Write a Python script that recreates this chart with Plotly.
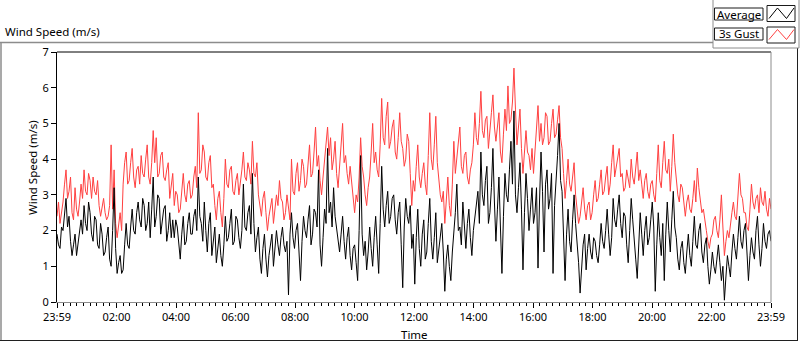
import numpy as np
import plotly.graph_objects as go

# ---------------- data ----------------
avg_00_04 = [1.9, 1.6, 1.5, 2.1, 2.0, 2.6, 2.9, 2.1, 2.4, 1.7,
             1.3, 1.6, 1.9, 1.3, 1.6, 2.0, 2.3, 1.9, 2.7, 2.2,
             2.0, 2.8, 2.5, 1.9, 1.7, 2.4, 2.3, 1.6, 1.5, 2.2,
             1.9, 1.3, 1.4, 1.8, 2.1, 1.2, 1.0, 2.0, 3.2, 1.5,
             0.8, 1.1, 1.3, 0.8, 0.9, 1.6, 2.2, 1.6, 1.5, 2.1,
             2.6, 2.0, 1.9, 2.5, 2.8, 2.3, 2.1, 2.9, 2.7, 2.0,
             2.2, 2.8, 1.8, 2.6, 3.5, 2.1, 2.4, 3.0, 2.9, 1.9,
             2.2, 2.6, 2.7, 1.7, 2.0, 2.5, 1.8, 2.3]
gust_00_04 = [2.4, 2.8, 2.2, 2.5, 2.8, 3.3, 3.7, 2.9, 3.1, 3.5,
              2.5, 2.3, 3.2, 2.6, 2.4, 2.8, 3.3, 2.9, 3.7, 3.1,
              3.0, 3.6, 3.4, 2.9, 3.5, 3.1, 3.0, 3.4, 2.7, 2.4,
              2.6, 2.9, 2.5, 2.3, 2.4, 2.7, 4.4, 2.6, 3.7, 2.2,
              1.8, 2.2, 2.5, 2.0, 3.3, 3.9, 4.2, 3.3, 3.4, 3.9,
              4.3, 3.5, 3.2, 3.7, 3.8, 3.3, 4.1, 3.6, 3.5, 4.0,
              4.4, 3.5, 3.3, 3.9, 4.8, 3.9, 4.6, 3.5, 3.6, 4.1,
              4.2, 3.5, 3.4, 3.7, 3.9, 2.9, 3.2, 3.6]

avg_04_08 = [1.8, 2.3, 2.1, 1.5, 1.2, 1.9, 2.4, 1.6, 1.7, 2.2,
             2.5, 1.9, 1.9, 2.4, 2.6, 2.0, 3.5, 2.4, 2.2, 1.7,
             2.8, 2.0, 1.4, 2.2, 2.5, 1.3, 1.7, 2.1, 1.1, 1.5,
             1.9, 1.3, 1.0, 1.6, 2.4, 1.7, 1.8, 2.2, 2.6, 1.6,
             1.7, 2.4, 2.3, 1.8, 1.5, 2.0, 3.3, 2.1, 2.0, 2.5,
             2.7, 1.9, 3.6, 2.2, 1.4, 1.8, 2.1, 1.2, 0.8, 1.5,
             1.9, 1.2, 0.7, 1.3, 1.6, 1.9, 1.0, 1.5, 2.0, 1.6,
             1.3, 1.8, 2.1, 1.6, 1.4, 1.7, 0.2, 1.9, 2.5, 1.8]
gust_04_08 = [2.7, 3.1, 3.0, 2.5, 2.6, 3.1, 3.6, 3.0, 2.8, 3.3,
              3.4, 2.9, 3.0, 3.5, 3.8, 3.2, 5.3, 3.6, 3.7, 4.4,
              4.2, 3.5, 3.4, 3.9, 4.1, 3.2, 3.3, 2.7, 2.3, 2.9,
              3.1, 2.5, 2.1, 2.9, 4.0, 3.3, 3.2, 3.7, 3.8, 3.1,
              3.0, 3.4, 3.6, 3.0, 3.3, 3.7, 4.2, 3.5, 3.4, 3.9,
              3.7, 3.3, 4.5, 3.6, 3.5, 3.9, 3.0, 2.6, 2.4, 2.9,
              3.1, 2.5, 2.0, 2.4, 2.6, 2.9, 2.2, 2.6, 3.0, 2.7,
              3.4, 2.9, 2.8, 2.3, 2.5, 3.0, 2.7, 2.3, 4.0, 3.1]

avg_08_12 = [1.5, 2.0, 2.2, 1.4, 0.6, 1.7, 2.4, 2.0, 1.8, 2.3,
             2.7, 1.6, 1.9, 2.6, 2.5, 2.1, 3.7, 1.6, 1.0, 1.8,
             2.6, 2.2, 4.3, 2.5, 2.8, 2.1, 3.2, 2.4, 2.0, 1.6,
             1.4, 1.9, 2.4, 1.7, 1.2, 1.8, 2.1, 1.3, 0.9, 1.5,
             1.6, 1.1, 0.6, 2.0, 4.1, 1.9, 1.3, 1.7, 0.9, 1.4,
             2.1, 1.5, 1.0, 1.8, 2.4, 1.6, 0.8, 2.2, 3.8, 2.6,
             2.1, 2.7, 3.1, 2.2, 2.4, 2.9, 3.0, 2.3, 1.9, 2.5,
             2.8, 1.6, 0.4, 2.1, 2.9, 2.4, 2.2, 2.7, 1.5, 1.9]
gust_08_12 = [3.0, 3.6, 3.9, 3.1, 3.4, 4.0, 3.8, 3.2, 3.3, 3.9,
              4.4, 3.5, 3.6, 4.2, 4.9, 3.8, 4.1, 3.4, 3.0, 3.5,
              3.9, 4.3, 4.9, 4.1, 4.6, 3.7, 4.0, 4.5, 3.6, 3.2,
              3.9, 4.4, 5.0, 3.9, 4.1, 3.6, 3.3, 3.8, 3.4, 2.9,
              2.5, 3.0, 2.8, 3.5, 4.6, 3.8, 3.5, 3.0, 2.7, 3.2,
              3.5, 4.2, 5.0, 3.9, 4.2, 3.7, 3.5, 4.4, 5.7, 4.6,
              4.4, 5.2, 5.6, 4.3, 4.5, 4.9, 5.1, 4.2, 4.0, 4.6,
              5.3, 4.5, 4.3, 3.8, 4.0, 4.7, 4.5, 3.6, 2.7, 3.4]

avg_12_16 = [0.5, 1.8, 2.6, 1.5, 1.0, 1.9, 2.3, 1.2, 1.4, 2.2,
             2.9, 1.7, 1.2, 1.8, 2.5, 1.1, 1.5, 1.9, 2.2, 1.4,
             0.3, 1.2, 1.6, 1.0, 0.6, 1.4, 1.9, 2.5, 3.3, 2.0,
             2.1, 1.6, 2.8, 2.0, 1.5, 2.2, 2.6, 1.8, 1.3, 2.0,
             2.4, 2.9, 3.1, 2.2, 4.2, 3.0, 2.7, 3.4, 3.8, 2.2,
             2.5, 3.2, 4.3, 2.8, 1.7, 2.6, 3.5, 2.1, 0.8, 2.4,
             3.6, 3.0, 2.8, 3.7, 4.5, 3.3, 5.35, 3.0, 2.5, 3.2,
             3.9, 2.6, 0.9, 2.5, 3.6, 2.9, 2.0, 2.6, 3.2, 2.2]
gust_12_16 = [3.1, 3.8, 4.4, 3.5, 3.2, 3.6, 3.9, 3.3, 3.0, 4.1,
              5.3, 4.0, 3.7, 4.4, 5.2, 3.9, 3.4, 3.0, 2.8, 3.1,
              2.2, 2.9, 3.5, 2.7, 2.4, 3.3, 4.5, 3.6, 4.0, 4.4,
              4.9, 3.8, 3.6, 4.1, 4.2, 3.5, 3.3, 3.7, 3.9, 4.4,
              5.3, 4.6, 4.4, 5.0, 5.9, 4.8, 4.6, 5.1, 5.2, 4.3,
              4.7, 5.3, 5.8, 4.9, 4.5, 4.9, 5.3, 4.2, 3.9, 4.7,
              5.4, 4.8, 6.05, 5.0, 5.1, 5.6, 6.55, 5.4, 4.4, 4.9,
              5.4, 4.3, 3.6, 4.2, 4.8, 4.2, 4.1, 3.7, 4.3, 3.6]

avg_16_20 = [2.5, 3.2, 0.95, 2.8, 4.2, 3.1, 1.4, 3.3, 3.7, 2.6,
             2.9, 3.6, 0.8, 2.7, 3.3, 4.1, 5.0, 3.4, 3.1, 1.8,
             0.6, 1.9, 2.6, 1.7, 1.4, 2.3, 3.0, 2.2, 1.7, 1.1,
             0.25, 0.9, 1.6, 1.9, 0.9, 1.5, 1.9, 1.4, 1.2, 1.8,
             1.7, 1.3, 1.1, 1.6, 2.2, 1.7, 1.5, 2.0, 2.6, 1.9,
             1.3, 1.8, 2.9, 2.3, 2.1, 2.6, 3.0, 2.2, 1.8, 2.5,
             2.4, 1.6, 1.1, 2.0, 2.9, 2.3, 1.6, 1.2, 0.66, 1.8,
             2.5, 1.9, 1.3, 2.0, 2.4, 1.6, 1.8, 2.3, 2.8, 2.1]
gust_16_20 = [4.2, 4.8, 5.5, 4.5, 5.0, 4.4, 4.6, 5.3, 5.2, 4.4,
              4.5, 5.0, 5.4, 4.6, 4.7, 5.1, 5.5, 4.6, 4.3, 3.6,
              2.9, 3.4, 4.0, 3.3, 3.1, 3.5, 3.9, 3.0, 2.6, 2.2,
              2.4, 2.9, 3.2, 2.6, 2.3, 2.7, 2.8, 2.3, 2.5, 3.0,
              3.4, 2.8, 2.9, 3.3, 3.7, 3.0, 3.1, 3.5, 3.8, 3.0,
              3.3, 3.9, 4.4, 3.5, 3.8, 4.1, 4.3, 3.5, 3.6, 3.1,
              3.2, 3.7, 3.5, 3.2, 4.0, 3.5, 3.3, 3.7, 4.2, 3.4,
              3.7, 3.3, 2.9, 3.4, 3.6, 3.1, 2.9, 3.3, 3.4, 3.0]

avg_20_24 = [0.3, 1.6, 2.5, 1.8, 1.3, 2.2, 0.6, 1.9, 2.8, 2.0,
             1.4, 2.3, 3.1, 2.1, 1.8, 1.2, 0.9, 1.5, 1.7, 1.1,
             0.8, 1.4, 1.9, 1.3, 1.0, 1.7, 2.4, 1.6, 1.5, 2.0,
             2.2, 1.4, 1.1, 1.6, 1.8, 1.0, 0.5, 0.9, 1.4, 1.0,
             0.8, 1.2, 1.6, 1.1, 0.6, 1.0, 0.05, 0.7, 1.3, 1.0,
             0.7, 1.4, 1.9, 1.5, 1.2, 1.8, 2.4, 1.7, 1.5, 2.0,
             2.2, 1.4, 0.6, 1.3, 1.8, 1.4, 1.2, 2.0, 2.4, 1.6,
             1.0, 1.5, 2.2, 1.7, 1.5, 1.9, 2.0, 1.7]
gust_20_24 = [2.8, 3.6, 4.4, 3.4, 3.2, 3.9, 4.5, 3.7, 3.6, 4.0,
              3.1, 3.8, 4.7, 3.9, 3.5, 3.0, 2.8, 3.3, 3.2, 2.7,
              2.4, 2.8, 3.0, 2.6, 2.5, 2.9, 3.4, 2.8, 3.75, 3.2,
              2.9, 2.5, 2.6, 2.2, 2.0, 1.7, 1.5, 1.8, 1.9, 2.3,
              2.4, 2.0, 1.8, 2.3, 3.0, 2.1, 1.3, 1.7, 2.0, 1.8,
              2.2, 2.5, 2.8, 2.4, 2.3, 2.9, 3.6, 3.0, 2.9, 2.5,
              2.5, 2.1, 2.0, 2.6, 3.3, 2.8, 2.6, 2.9, 3.0, 2.5,
              3.2, 2.8, 2.7, 3.1, 2.6, 2.4, 2.9, 2.6]

average = avg_00_04 + avg_04_08 + avg_08_12 + avg_12_16 + avg_16_20 + avg_20_24
gust = gust_00_04 + gust_04_08 + gust_08_12 + gust_12_16 + gust_16_20 + gust_20_24

# sample times in hours after 23:59 of the previous day
time_hours = np.linspace(0, 24, len(average))

tick_hours = [0, 2, 4, 6, 8, 10, 12, 14, 16, 18, 20, 22, 24]
tick_labels = ["23:59", "02:00", "04:00", "06:00", "08:00", "10:00", "12:00",
               "14:00", "16:00", "18:00", "20:00", "22:00", "23:59"]
y_ticks = [0, 1, 2, 3, 4, 5, 6, 7]

# ---------------- layout geometry (pixels) ----------------
W, H = 800, 342
L, R, T, B = 57, 771, 52, 302
FONT = "Noto Sans"


def px(x):
    return (x - L) / (R - L)


def py(y):
    return (B - y) / (B - T)


fig = go.Figure()
fig.add_trace(go.Scatter(x=time_hours, y=gust, mode="lines", name="3s Gust",
                         line=dict(color="#ff4040", width=1)))
fig.add_trace(go.Scatter(x=time_hours, y=average, mode="lines", name="Average",
                         line=dict(color="#000000", width=1)))

shapes = []
grey = "#8c8c8c"
# outer frame
shapes.append(dict(type="line", xref="paper", yref="paper", x0=px(0), x1=px(713), y0=py(42.5), y1=py(42.5),
                   line=dict(color=grey, width=1.5)))
shapes.append(dict(type="line", xref="paper", yref="paper", x0=px(1), x1=px(1), y0=py(42), y1=py(340.5),
                   line=dict(color=grey, width=1.5)))
shapes.append(dict(type="line", xref="paper", yref="paper", x0=px(0), x1=px(798), y0=py(340.5), y1=py(340.5),
                   line=dict(color="#202020", width=1)))
shapes.append(dict(type="line", xref="paper", yref="paper", x0=px(797.5), x1=px(797.5), y0=py(48), y1=py(340.5),
                   line=dict(color="#202020", width=1)))
# plot frame: top black, right grey
shapes.append(dict(type="line", xref="paper", yref="paper", x0=0, x1=1, y0=1, y1=1,
                   line=dict(color="#000000", width=1)))
shapes.append(dict(type="line", xref="paper", yref="paper", x0=1, x1=1, y0=0, y1=1,
                   line=dict(color=grey, width=1)))
# legend panel
shapes.append(dict(type="rect", xref="paper", yref="paper", x0=px(713), x1=px(799), y0=py(48), y1=py(-2),
                   line=dict(color=grey, width=1), fillcolor="white"))
for (ty0, ty1, sy0, sy1) in [(8, 20, 5.5, 21.5), (28, 40, 27, 43)]:
    shapes.append(dict(type="rect", xref="paper", yref="paper", x0=px(714.5), x1=px(763), y0=py(ty1), y1=py(ty0),
                       line=dict(color="#1a1a1a", width=1), fillcolor="white"))
    shapes.append(dict(type="rect", xref="paper", yref="paper", x0=px(767), x1=px(795), y0=py(sy1), y1=py(sy0),
                       line=dict(color="#1a1a1a", width=1), fillcolor="white"))


def zig(yl, yh, color):
    pts = [(769, yl), (777.5, yh), (786.5, yl), (794, yh)]
    path = "M " + " L ".join(f"{px(a):.5f},{py(b):.5f}" for a, b in pts)
    return dict(type="path", xref="paper", yref="paper", path=path, line=dict(color=color, width=1))


shapes.append(zig(18.5, 8, "#000000"))
shapes.append(zig(39.5, 29.5, "#ff4040"))

annotations = [
    dict(text="Wind Speed (m/s)", xref="paper", yref="paper", x=px(3), y=py(32), xanchor="left", yanchor="middle",
         showarrow=False, font=dict(family=FONT, size=11.5, color="#000")),
    dict(text="Average", xref="paper", yref="paper", x=px(739), y=py(14), xanchor="center", yanchor="middle",
         showarrow=False, font=dict(family=FONT, size=11.5, color="#000")),
    dict(text="3s Gust", xref="paper", yref="paper", x=px(739), y=py(34), xanchor="center", yanchor="middle",
         showarrow=False, font=dict(family=FONT, size=11.5, color="#000")),
    dict(text="Wind Speed (m/s)", xref="paper", yref="paper", x=px(32), y=py(168), xanchor="center",
         yanchor="middle", textangle=-90, showarrow=False, font=dict(family=FONT, size=11.5, color="#000")),
    dict(text="Time", xref="paper", yref="paper", x=px(414), y=py(334), xanchor="center", yanchor="middle",
         showarrow=False, font=dict(family=FONT, size=11.5, color="#000")),
]

fig.update_layout(
    width=W, height=H,
    margin=dict(l=L, r=W - R, t=T, b=H - B, pad=0),
    paper_bgcolor="white", plot_bgcolor="white",
    showlegend=False,
    shapes=shapes, annotations=annotations,
    font=dict(family=FONT, size=11, color="#000"),
    xaxis=dict(range=[0, 24], tickmode="array", tickvals=tick_hours, ticktext=tick_labels,
               showgrid=False, zeroline=False, showline=True, linecolor=grey, linewidth=1,
               ticks="outside", ticklen=5, tickcolor="#000", tickwidth=1,
               tickfont=dict(family=FONT, size=11, color="#000"),
               minor=dict(ticks="outside", ticklen=3, tickcolor="#000", tickwidth=1,
                          tickmode="linear", tick0=0, dtick=2 / 9, showgrid=False)),
    yaxis=dict(range=[0, 7], tickmode="array", tickvals=y_ticks, showgrid=False, zeroline=False,
               showline=True, linecolor="#000", linewidth=1,
               ticks="outside", ticklen=5, tickcolor="#000", tickwidth=1,
               tickfont=dict(family=FONT, size=11, color="#000")),
)

fig.write_html("out.html", config={"displayModeBar": False},
               post_script="document.body.style.margin='0px';document.body.style.overflow='hidden';")
